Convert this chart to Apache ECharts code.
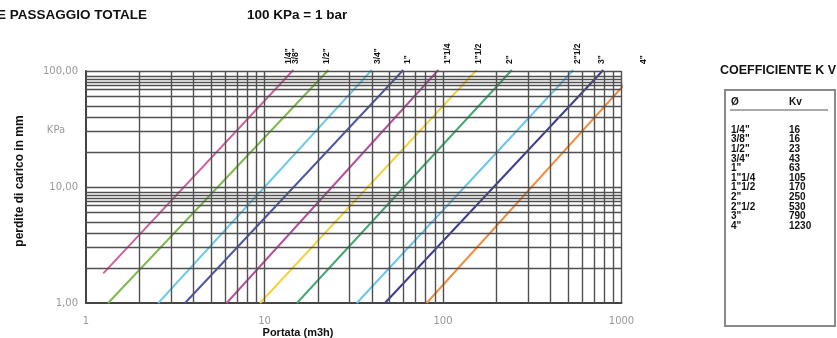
<!DOCTYPE html>
<html>
<head>
<meta charset="utf-8">
<script src="https://cdn.jsdelivr.net/npm/echarts@6/dist/echarts.min.js"></script>
<style>html,body{margin:0;padding:0;background:#fff;}#c{width:837px;height:338px;}</style>
</head>
<body>
<div id="c"></div>
<script>
// ---- data ----
const lineNames = ['1/4" - 3/8"', '1/2"', '3/4"', '1"', '1"1/4', '1"1/2', '2"', '2"1/2', '3"', '4"'];
const lineStartQ  = [1.25, 1.33, 2.54, 3.59, 6.14, 9.44, 15.2, 32.9, 47.3, 81.0];
const lineStartDp = [1.80, 1.00, 1.00, 1.00, 1.00, 1.00, 1.00, 1.00, 1.00, 1.00];
const lineEndQ    = [14.5, 22.8, 39.9, 59.9, 94.1, 154, 243, 537, 791, 1354];
const lineEndDp   = [102, 102, 102, 102, 102, 102, 102, 102, 102, 120];
const topLabels = ['1/4"', '3/8"', '1/2"', '3/4"', '1"', '1"1/4', '1"1/2', '2"', '2"1/2', '3"', '4"'];
const tableSizes = ['1/4"', '3/8"', '1/2"', '3/4"', '1"', '1"1/4', '1"1/2', '2"', '2"1/2', '3"', '4"'];
const tableKv = [16, 16, 23, 43, 63, 105, 170, 250, 530, 790, 1230];
const xTickLabels = ['1', '10', '100', '1000'];
const yTickLabels = ['1,00', '10,00', '100,00'];
const xGridValues = [2,3,4,5,6,7,8,9,10,20,30,40,50,60,70,80,90,100,200,300,400,500,600,700,800,900,1000];
const yGridValues = [2,3,4,5,6,7,7.5,8,8.5,9,10,20,30,40,50,60,70,75,80,85,90,100];

// ---- styles ----
const lineColors = ['#d0609e', '#7fba4c', '#70cbe6', '#4d57a8', '#b8519d', '#f2d23e', '#43a872', '#6cc5ea', '#3d3d95', '#f28d3e'];
const topLabelX = [289, 295.5, 326.5, 377.5, 407.5, 447.5, 479, 510, 578, 602, 644];
const gridColor = '#505050';

const chart = echarts.init(document.getElementById('c'), null, {renderer: 'canvas'});

const series = [];
series.push({
  type: 'line', data: [[1, 1]], showSymbol: false, silent: true, z: 1,
  lineStyle: {opacity: 0},
  markLine: {
    silent: true, symbol: 'none', animation: false,
    label: {show: false},
    lineStyle: {color: gridColor, width: 1.4, type: 'solid'},
    data: xGridValues.map(v => ({xAxis: v})).concat(yGridValues.map(v => ({yAxis: v})))
  }
});
lineNames.forEach((n, i) => {
  series.push({
    name: n, type: 'line', clip: false, z: 3, showSymbol: false, symbol: 'none',
    data: [[lineStartQ[i], lineStartDp[i]], [lineEndQ[i], lineEndDp[i]]],
    lineStyle: {color: lineColors[i], width: 2},
    itemStyle: {color: lineColors[i]}
  });
});

const graphics = [];
graphics.push({type: 'text', x: -3, y: 15, style: {text: 'E PASSAGGIO TOTALE', font: 'bold 13.5px "Liberation Sans", Arial, sans-serif', fill: '#111', textVerticalAlign: 'middle'}});
graphics.push({type: 'text', x: 247, y: 15, style: {text: '100 KPa = 1 bar', font: 'bold 13.5px "Liberation Sans", Arial, sans-serif', fill: '#111', textVerticalAlign: 'middle'}});
graphics.push({type: 'text', x: 56, y: 130, style: {text: 'KPa', font: '10px "DejaVu Sans", sans-serif', fill: '#999', textAlign: 'center', textVerticalAlign: 'middle'}});
graphics.push({type: 'text', x: 298, y: 333, style: {text: 'Portata (m3h)', font: 'bold 11px "Liberation Sans", Arial, sans-serif', fill: '#111', textAlign: 'center', textVerticalAlign: 'middle'}});
graphics.push({type: 'text', x: 20, y: 181, rotation: Math.PI / 2, style: {text: 'perdite di carico in mm', font: 'bold 12px "Liberation Sans", Arial, sans-serif', fill: '#111', textAlign: 'center', textVerticalAlign: 'middle'}});
topLabels.forEach((t, i) => {
  graphics.push({type: 'text', x: topLabelX[i], y: 64, rotation: Math.PI / 2, style: {text: t, font: 'bold 8.5px "Liberation Sans Narrow", "Liberation Sans", sans-serif', fill: '#111', textAlign: 'left', textVerticalAlign: 'middle'}});
});
// table
graphics.push({type: 'text', x: 720, y: 71, style: {text: 'COEFFICIENTE K V', font: 'bold 12.5px "Liberation Sans", Arial, sans-serif', fill: '#111', textVerticalAlign: 'middle'}});
graphics.push({type: 'rect', shape: {x: 725, y: 90, width: 110, height: 236}, style: {fill: '#fff', stroke: '#8a8a8a', lineWidth: 2}});
const tFont = 'bold 10px "Liberation Sans Narrow", "Liberation Sans", sans-serif';
graphics.push({type: 'text', x: 731, y: 102, style: {text: 'Ø', font: tFont, fill: '#111', textVerticalAlign: 'middle'}});
graphics.push({type: 'text', x: 789, y: 102, style: {text: 'Kv', font: tFont, fill: '#111', textVerticalAlign: 'middle'}});
graphics.push({type: 'line', shape: {x1: 730, y1: 110, x2: 828, y2: 110}, style: {stroke: '#555', lineWidth: 1.2}});
tableSizes.forEach((s, i) => {
  const y = 130 + i * 9.6;
  graphics.push({type: 'text', x: 731, y: y, style: {text: s, font: tFont, fill: '#111', textVerticalAlign: 'middle'}});
  graphics.push({type: 'text', x: 789, y: y, style: {text: String(tableKv[i]), font: tFont, fill: '#111', textVerticalAlign: 'middle'}});
});

chart.setOption({
  animation: false,
  grid: {left: 86, right: 215.5, top: 71, bottom: 35, containLabel: false},
  xAxis: {
    type: 'log', logBase: 10, min: 1, max: 1000,
    axisLine: {show: true, lineStyle: {color: '#444', width: 2}},
    axisTick: {show: false},
    splitLine: {show: false},
    axisLabel: {margin: 13, color: '#999', fontSize: 10, fontFamily: 'DejaVu Sans',
      formatter: (v, idx) => xTickLabels[idx]}
  },
  yAxis: {
    type: 'log', logBase: 10, min: 1, max: 100,
    axisLine: {show: true, lineStyle: {color: '#444', width: 2}},
    axisTick: {show: false},
    splitLine: {show: false},
    axisLabel: {margin: 8, color: '#999', fontSize: 10, fontFamily: 'DejaVu Sans',
      formatter: (v, idx) => yTickLabels[idx]}
  },
  series: series,
  graphic: graphics
});
</script>
</body>
</html>
